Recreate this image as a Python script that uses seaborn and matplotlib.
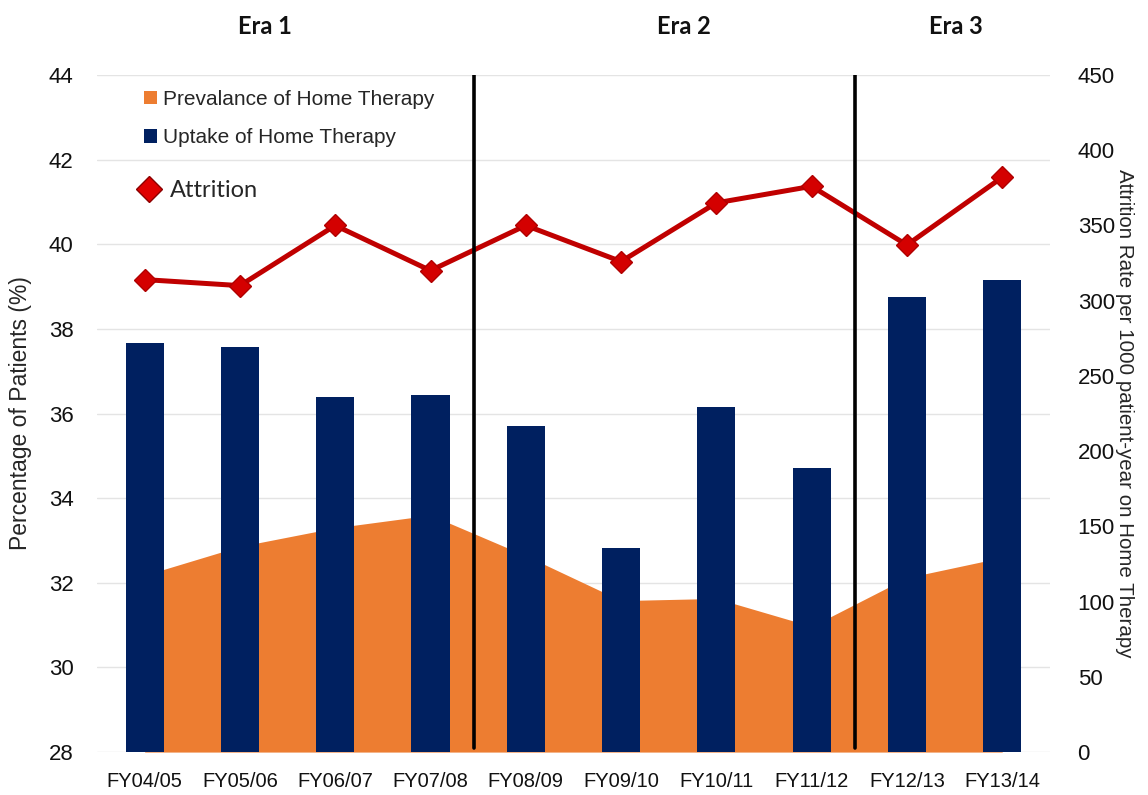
import numpy as np
import pandas as pd
import matplotlib
matplotlib.use("Agg")
import matplotlib.pyplot as plt
from matplotlib.lines import Line2D
from matplotlib.patches import Patch
import seaborn as sns

# Financial years shown on the category axis
categories = ["FY04/05", "FY05/06", "FY06/07", "FY07/08", "FY08/09",
              "FY09/10", "FY10/11", "FY11/12", "FY12/13", "FY13/14"]

# Percentage of patients (left axis)
uptake = [37.66, 37.57, 36.39, 36.43, 35.70, 32.83, 36.15, 34.71, 38.75, 39.15]
prevalence = [32.18, 32.86, 33.30, 33.60, 32.64, 31.58, 31.63, 30.97, 32.12, 32.60]

# Attrition rate per 1000 patient-years on home therapy (right axis)
attrition = [314, 310, 350, 320, 350, 326, 365, 376, 337, 382]

# Era boundaries and headings
era_bounds = [3.46, 7.46]
era_labels = ["Era 1", "Era 2", "Era 3"]
era_centers = [1.26, 5.66, 8.51]

NAVY = "#002060"
ORANGE = "#ED7D31"
RED = "#C00000"
SANS = ["Liberation Sans", "DejaVu Sans"]

sns.set_theme(style="white")
plt.rcParams["font.family"] = SANS

df = pd.DataFrame({"year": categories, "uptake": uptake,
                   "prevalence": prevalence, "attrition": attrition})
pos = np.arange(len(categories))

fig = plt.figure(figsize=(11.48, 7.95), dpi=100)
ax = fig.add_axes([0.0845, 0.054, 0.830, 0.8517])

# horizontal grid behind everything
for v in range(28, 45, 2):
    ax.axhline(v, color="#E4E4E4", lw=1.0, zorder=0)

# prevalence as a filled area
ax.fill_between(pos, 28, df["prevalence"], color=ORANGE, lw=0, zorder=1)

# uptake as bars
sns.barplot(data=df, x="year", y="uptake", color=NAVY, width=0.4,
            saturation=1, linewidth=0, ax=ax, zorder=2)
for p in ax.patches:
    p.set_zorder(2)
    p.set_edgecolor("none")

ax.set_xlim(-0.5, len(categories) - 0.5)
ax.set_ylim(28, 44)
ax.set_yticks(range(28, 45, 2))
ax.set_xlabel("")
ax.set_ylabel("Percentage of Patients (%)", fontsize=16.5, labelpad=12)
ax.tick_params(axis="both", length=0, colors="#111111")
ax.tick_params(axis="x", pad=14, labelsize=14.5)
ax.tick_params(axis="y", pad=17, labelsize=16)
for s in ax.spines.values():
    s.set_visible(False)

# attrition on secondary axis
ax2 = ax.twinx()
sns.lineplot(x=pos, y=df["attrition"], ax=ax2, color=RED, lw=3.6,
             marker="D", markersize=11, markerfacecolor="#D40000",
             markeredgecolor="#B00000", markeredgewidth=1, zorder=3)
ax2.set_ylim(0, 450)
ax2.set_yticks(range(0, 451, 50))
ax2.set_ylabel("Attrition Rate per 1000 patient-year on Home Therapy",
               fontsize=14.8, rotation=270, labelpad=14)
ax2.tick_params(axis="y", length=0, labelsize=16, colors="#111111", pad=20)
for s in ax2.spines.values():
    s.set_visible(False)
ax2.set_xlim(-0.5, len(categories) - 0.5)

# era separators and headings
for b in era_bounds:
    ax2.axvline(b, ymin=0.006, ymax=1.0, color="black", lw=2.6, zorder=5)
for lab, c in zip(era_labels, era_centers):
    ax2.text(c, 1.072, lab, transform=ax2.get_xaxis_transform(),
             ha="center", va="center", fontsize=17, fontweight="bold",
             family=["Lato", "DejaVu Sans"], color="#111111")

# legend for the percentage series
handles = [Patch(facecolor=ORANGE, edgecolor="none"),
           Patch(facecolor=NAVY, edgecolor="none")]
leg = ax2.legend(handles, ["Prevalance of Home Therapy", "Uptake of Home Therapy"],
                 loc="upper left", bbox_to_anchor=(0.03, 1.006), frameon=False,
                 fontsize=15, handlelength=0.6, handleheight=0.6,
                 handletextpad=0.3, labelspacing=0.95)
ax2.add_artist(leg)

# legend for the attrition series
h3 = [Line2D([], [], ls="none", marker="D", markersize=13,
             markerfacecolor="#E00000", markeredgecolor="#8B0000",
             markeredgewidth=1)]
ax2.legend(h3, ["Attrition"], loc="upper left", bbox_to_anchor=(0.02, 0.876),
           frameon=False, prop={"family": ["Lato", "DejaVu Sans"], "size": 17},
           handlelength=1.0, handletextpad=0.4)

fig.savefig("out.png", dpi=100)
